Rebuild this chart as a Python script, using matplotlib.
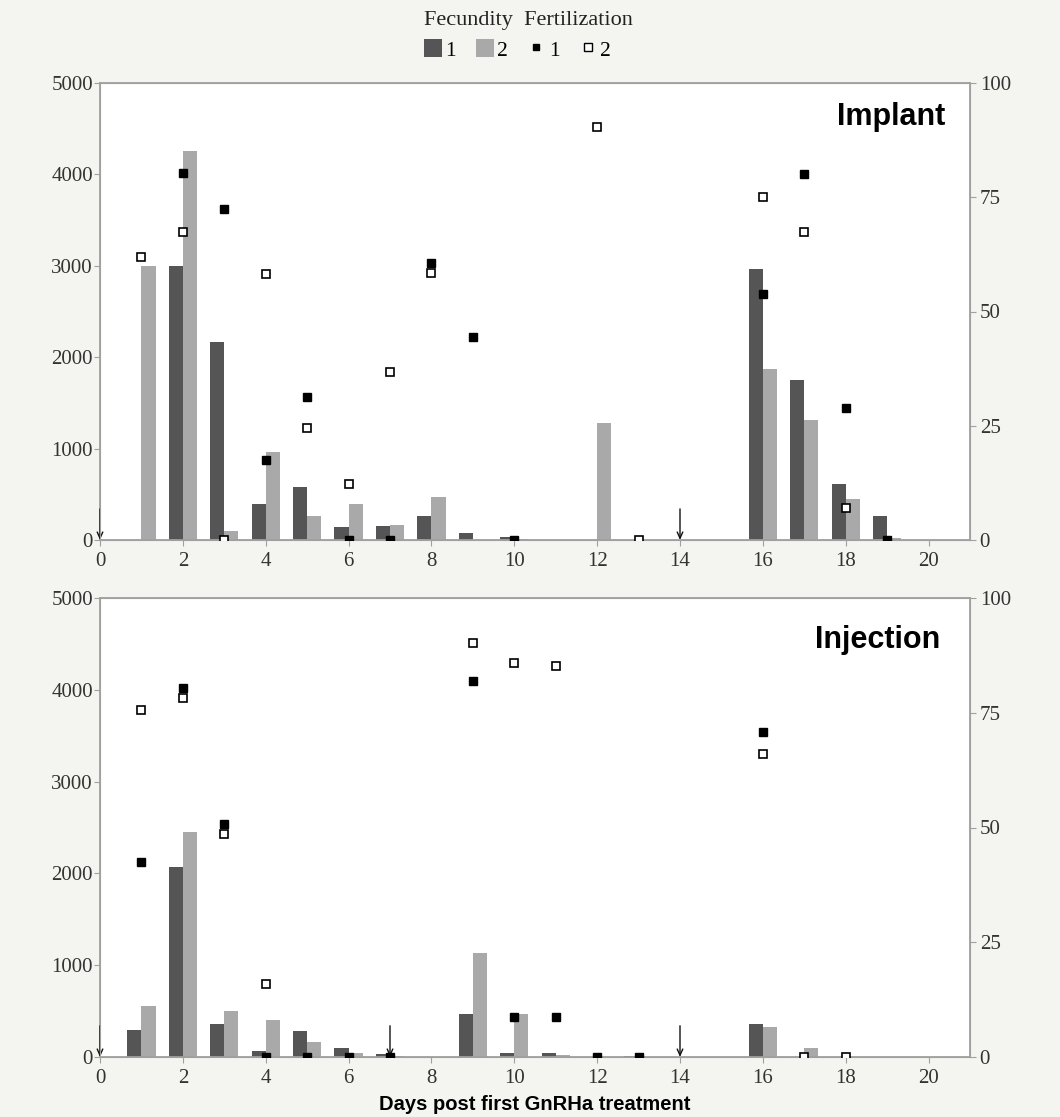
"""Fecundity bars and fertilization rates after GnRHa treatment, implant vs injection."""

import matplotlib

matplotlib.use("Agg")
import matplotlib.pyplot as plt
import numpy as np
from matplotlib.lines import Line2D
from matplotlib.patches import Patch

nan = np.nan

DAYS = list(range(1, 20))

# Implant group
IMPLANT_FEC_1 = [0, 3000, 2165, 389, 580, 140, 150, 268, 77, 33,
                 0, 0, 0, 0, 0, 2970, 1754, 610, 260]
IMPLANT_FEC_2 = [3000, 4260, 95, 965, 268, 389, 169, 470, 0, 8,
                 0, 1279, 0, 0, 0, 1871, 1308, 450, 20]
IMPLANT_FERT_1 = [nan, 80.2, 72.5, 17.6, 31.3, 0, 0, 60.6, 44.4, 0,
                  nan, nan, nan, nan, nan, 53.9, 80.0, 28.9, 0]
IMPLANT_FERT_2 = [61.9, 67.4, 0, 58.2, 24.6, 12.3, 36.7, 58.4, nan, nan,
                  nan, 90.3, 0, nan, nan, 75.1, 67.5, 6.9, nan]
IMPLANT_ARROWS = [0, 14]

# Injection group
INJECTION_FEC_1 = [298, 2065, 356, 65, 284, 102, 29, 0, 473, 44,
                   48, 0, 15, 0, 0, 360, 0, 0, 0]
INJECTION_FEC_2 = [553, 2447, 502, 400, 164, 44, 10, 0, 1135, 473,
                   18, 0, 0, 0, 0, 331, 103, 0, 0]
INJECTION_FERT_1 = [42.4, 80.3, 50.7, 0, 0, 0, 0, nan, 82.0, 8.7,
                    8.8, 0, 0, nan, nan, 70.7, nan, nan, nan]
INJECTION_FERT_2 = [75.5, 78.3, 48.5, 15.9, nan, nan, nan, nan, 90.3, 85.8,
                    85.1, nan, nan, nan, nan, 66.0, 0, 0, nan]
INJECTION_ARROWS = [0, 7, 14]

LEFT_TICKS = [0, 1000, 2000, 3000, 4000, 5000]
RIGHT_TICKS = [0, 25, 50, 75, 100]
X_TICKS = list(range(0, 21, 2))

DARK = "#555555"
LIGHT = "#a9a9a9"
SPINE = "#a0a0a0"
BG = "#f4f4f0"
SERIF = "Liberation Serif"
BAR_W = 0.34

plt.rcParams.update({
    "font.family": SERIF,
    "axes.edgecolor": SPINE,
    "xtick.color": SPINE,
    "ytick.color": SPINE,
    "xtick.labelcolor": "#333333",
    "ytick.labelcolor": "#333333",
    "xtick.labelsize": 15,
    "ytick.labelsize": 15,
})


def draw_panel(ax, fec1, fec2, fert1, fert2, arrows, title, title_x, title_y):
    x = np.asarray(DAYS, dtype=float)
    ax.bar(x - BAR_W / 2, fec1, width=BAR_W, color=DARK, linewidth=0, zorder=2)
    ax.bar(x + BAR_W / 2, fec2, width=BAR_W, color=LIGHT, linewidth=0, zorder=2)
    ax.set_xlim(0, 21)
    ax.set_ylim(0, 5000)
    ax.set_xticks(X_TICKS)
    ax.set_yticks(LEFT_TICKS)
    ax.tick_params(axis="y", length=4, width=0.8, pad=1)
    ax.tick_params(axis="x", length=4, width=0.8, pad=4.5)
    for side in ("left", "right", "top", "bottom"):
        ax.spines[side].set_linewidth(1.3)

    # treatment days
    for d in arrows:
        ax.annotate("", xy=(d, 0), xytext=(d, 340),
                    arrowprops=dict(arrowstyle="->,head_width=0.2,head_length=0.45",
                                    color="#111111", lw=1.0, shrinkA=0, shrinkB=0),
                    zorder=4, annotation_clip=False)

    ax.text(title_x, title_y, title, transform=ax.transAxes, ha="right", va="center",
            fontsize=22, fontweight="bold", family="Liberation Sans")

    ax2 = ax.twinx()
    ax2.set_ylim(0, 100)
    ax2.set_yticks(RIGHT_TICKS)
    ax2.tick_params(length=4, width=0.8, pad=3)
    ax2.plot(x, fert1, linestyle="none", marker="s", markersize=5.3,
             markerfacecolor="black", markeredgecolor="black", zorder=5)
    ax2.plot(x, fert2, linestyle="none", marker="s", markersize=5.8,
             markerfacecolor="white", markeredgecolor="black",
             markeredgewidth=1.2, zorder=5)
    return ax2


W, H = 1060, 1117
fig = plt.figure(figsize=(W / 100, H / 100), dpi=100, facecolor=BG)
ax_top = fig.add_axes([100 / W, 1 - 540 / H, 870 / W, 457 / H])
ax_bot = fig.add_axes([100 / W, 1 - 1057 / H, 870 / W, 459 / H])

draw_panel(ax_top, IMPLANT_FEC_1, IMPLANT_FEC_2, IMPLANT_FERT_1, IMPLANT_FERT_2,
           IMPLANT_ARROWS, "Implant", 0.971, 0.925)
draw_panel(ax_bot, INJECTION_FEC_1, INJECTION_FEC_2, INJECTION_FERT_1, INJECTION_FERT_2,
           INJECTION_ARROWS, "Injection", 0.966, 0.908)

ax_bot.set_xlabel("Days post first GnRHa treatment", family="Liberation Sans",
                  fontweight="bold", fontsize=14.5, labelpad=5, color="black")

# legend: title line above a single row of four keys
fig.text(424 / W, 1 - 20 / H, "Fecundity  Fertilization", ha="left", va="center",
         fontsize=16, color="#222222")
handles = [
    Patch(facecolor=DARK, edgecolor="none"),
    Patch(facecolor=LIGHT, edgecolor="none"),
    Line2D([], [], linestyle="none", marker="s", markersize=4.5,
           markerfacecolor="black", markeredgecolor="black"),
    Line2D([], [], linestyle="none", marker="s", markersize=5.5,
           markerfacecolor="white", markeredgecolor="black"),
]
fig.legend(handles, ["1", "2", "1", "2"], loc="center left",
           bbox_to_anchor=(424 / W, 1 - 50 / H), ncol=4, frameon=False,
           fontsize=15.5, handlelength=0.85, handleheight=0.85,
           handletextpad=0.15, columnspacing=0.9, borderpad=0, borderaxespad=0)

fig.savefig("out.png", dpi=100, facecolor=BG)
